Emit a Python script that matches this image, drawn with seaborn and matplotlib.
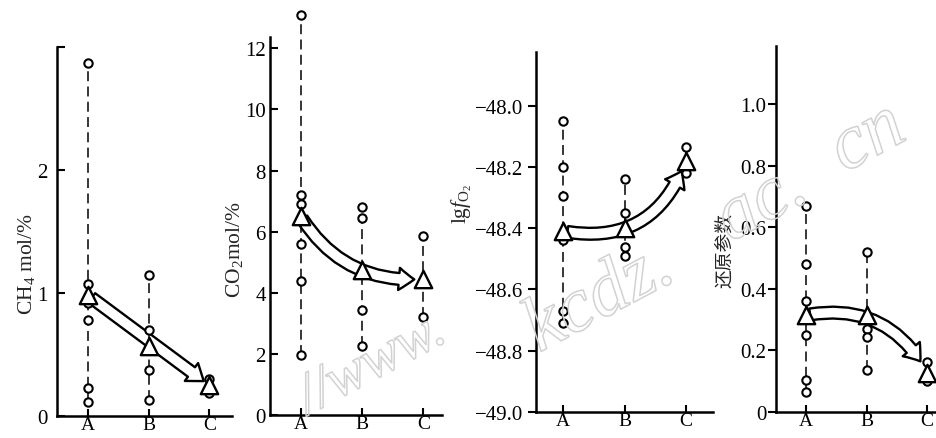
import numpy as np
import pandas as pd
import matplotlib
matplotlib.use("Agg")
import matplotlib.pyplot as plt
import matplotlib.patheffects as pe
import seaborn as sns
from matplotlib.patches import FancyArrowPatch

# ---------------- data ----------------
categories = ["A", "B", "C"]

ch4_A = [2.87, 1.07, 0.92, 0.78, 0.23, 0.11]
ch4_B = [1.15, 0.70, 0.37, 0.13]
ch4_C = [0.30, 0.19]
ch4_mean = [0.98, 0.57, 0.25]

co2_A = [13.1, 7.2, 6.9, 5.6, 4.4, 1.95]
co2_B = [6.8, 6.45, 3.45, 2.27]
co2_C = [5.85, 3.2]
co2_mean = [6.5, 4.75, 4.45]

fo2_A = [-48.05, -48.20, -48.295, -48.44, -48.67, -48.71]
fo2_B = [-48.24, -48.35, -48.46, -48.49]
fo2_C = [-48.135, -48.22]
fo2_mean = [-48.41, -48.40, -48.18]

red_A = [0.67, 0.48, 0.36, 0.25, 0.105, 0.065]
red_B = [0.52, 0.27, 0.245, 0.137]
red_C = [0.163, 0.10]
red_mean = [0.315, 0.315, 0.128]

ch4_ticks = [0, 1, 2, 3]
ch4_ticklabels = ["0", "1", "2", ""]
co2_ticks = [0, 2, 4, 6, 8, 10, 12]
fo2_ticks = [-49.0, -48.8, -48.6, -48.4, -48.2, -48.0]
red_ticks = [0, 0.2, 0.4, 0.6, 0.8, 1.0]

ylabels = ["CH$_4$ mol/%", "CO$_2$mol/%", r"lg$f_{\mathrm{O}_2}$", "还原参数"]

watermark_parts = ["//www.", "kcdz.", "ac.", "cn"]

# ---------------- style ----------------
sns.set_theme(style="ticks")
plt.rcParams['font.family'] = ['Liberation Serif', 'Noto Sans CJK SC', 'DejaVu Sans']
plt.rcParams['mathtext.fontset'] = 'custom'
plt.rcParams['mathtext.rm'] = 'Liberation Serif'
plt.rcParams['mathtext.it'] = 'Liberation Serif:italic'
plt.rcParams['mathtext.bf'] = 'Liberation Serif:bold'
plt.rcParams['axes.unicode_minus'] = True

W, H = 936, 439
fig = plt.figure(figsize=(W / 100, H / 100), dpi=100)
fig.patch.set_facecolor("white")


def rect(l, t, r, b):
    return [l / W, 1 - b / H, (r - l) / W, (b - t) / H]


panels = [
    dict(samples=[ch4_A, ch4_B, ch4_C], mean=ch4_mean, rect=rect(57, 48, 232, 417),
         xlim=(-0.517, 2.375), ylim=(0, 3.0), yticks=ch4_ticks, yticklabels=ch4_ticklabels,
         label=ylabels[0], lab=(-0.114, 0.414), lfont=dict(fontsize=15.5),
         rad=0.0, shrinkA=3, shrinkB=5, ydir="in", ypad=7),
    dict(samples=[co2_A, co2_B, co2_C], mean=co2_mean, rect=rect(270, 38, 442, 416),
         xlim=(-0.5, 2.305), ylim=(0, 12.37), yticks=co2_ticks,
         yticklabels=[str(v) for v in co2_ticks],
         label=ylabels[1], lab=(-0.145, 0.44), lfont=dict(fontsize=15.5),
         rad=0.3, shrinkA=2, shrinkB=6.5, ydir="in", ypad=3),
    dict(samples=[fo2_A, fo2_B, fo2_C], mean=fo2_mean, rect=rect(536, 53, 712.7, 413),
         xlim=(-0.445, 2.44), ylim=(-49.0, -47.825), yticks=fo2_ticks,
         yticklabels=[f"{v:.1f}".replace("-", "\u2212") for v in fo2_ticks],
         label=ylabels[2], lab=(-0.351, 0.58), lfont=dict(fontsize=15.5),
         rad=0.42, shrinkA=3, shrinkB=8, ydir="out", ypad=3),
    dict(samples=[red_A, red_B, red_C], mean=red_mean, rect=rect(776, 47, 946, 413),
         xlim=(-0.496, 2.31), ylim=(0, 1.19), yticks=red_ticks,
         yticklabels=["0" if v == 0 else f"{v:.1f}" for v in red_ticks],
         label=ylabels[3], lab=(-0.241, 0.443),
         lfont=dict(fontsize=13.5, family=['Noto Sans CJK SC', 'DejaVu Sans']),
         rad=-0.36, shrinkA=3, shrinkB=9.5, ydir="out", ypad=1),
]

for p in panels:
    ax = fig.add_axes(p["rect"])
    ax.set_facecolor("none")
    samples = p["samples"]

    df = pd.DataFrame({
        "cat": [c for c, vals in zip(categories, samples) for _ in vals],
        "val": [v for vals in samples for v in vals],
    })
    mdf = pd.DataFrame({"cat": categories, "val": p["mean"]})

    # dashed range lines (min -> max of each group)
    for i, vals in enumerate(samples):
        ax.vlines(i, min(vals), max(vals), colors="black", linestyles=(0, (6.5, 3.5)),
                  linewidth=1.1, zorder=1, clip_on=False)

    # individual samples (hollow circles)
    sns.stripplot(data=df, x="cat", y="val", order=categories, jitter=False,
                  marker="o", size=6.0, color="white", edgecolor="black",
                  linewidth=1.5, zorder=4, clip_on=False, ax=ax)

    # mean values (hollow triangles)
    sns.stripplot(data=mdf, x="cat", y="val", order=categories, jitter=False,
                  marker="^", size=12.5, color="white", edgecolor="black",
                  linewidth=1.7, zorder=5, clip_on=False, ax=ax)

    # trend arrow from group A mean to group C mean
    arr = FancyArrowPatch(posA=(0, p["mean"][0]), posB=(2, p["mean"][2]),
                          connectionstyle=f"arc3,rad={p['rad']}",
                          arrowstyle="simple,head_length=1.1,head_width=1.6,tail_width=0.85",
                          mutation_scale=10, shrinkA=p["shrinkA"], shrinkB=p["shrinkB"],
                          facecolor="none", edgecolor="black", linewidth=1.7, zorder=3)
    ax.add_patch(arr)

    ax.set_xlim(*p["xlim"])
    ax.set_ylim(*p["ylim"])
    ax.set_xticks(range(len(categories)))
    ax.set_xticklabels(categories)
    ax.set_yticks(p["yticks"])
    ax.set_yticklabels(p["yticklabels"])
    ax.set_xlabel("")
    ax.set_ylabel(p["label"], **p["lfont"])
    ax.yaxis.set_label_coords(*p["lab"])

    sns.despine(ax=ax)
    for s in ["left", "bottom"]:
        ax.spines[s].set_linewidth(1.8)
        ax.spines[s].set_color("black")
    ax.tick_params(axis="y", direction=p["ydir"], length=6, width=1.5,
                   labelsize=15, pad=p["ypad"], colors="black")
    ax.tick_params(axis="x", direction="in", length=5, width=1.5,
                   labelsize=14, pad=0, colors="black")
    ax.grid(False)

# faint outlined watermark of the source scan
wm_pos = [(372, 366), (600, 300), (762, 205), (868, 140)]
wm_size = [42, 56, 56, 56]
for txt, (px, py), fs in zip(watermark_parts, wm_pos, wm_size):
    fig.text(px / W, 1 - py / H, txt, fontsize=fs, fontstyle="italic",
             family="Liberation Serif", color="none", rotation=28,
             ha="center", va="center", rotation_mode="anchor", zorder=0,
             path_effects=[pe.withStroke(linewidth=1.1, foreground="#d2d2d2")])

fig.savefig("out.png", dpi=100, facecolor="white")
